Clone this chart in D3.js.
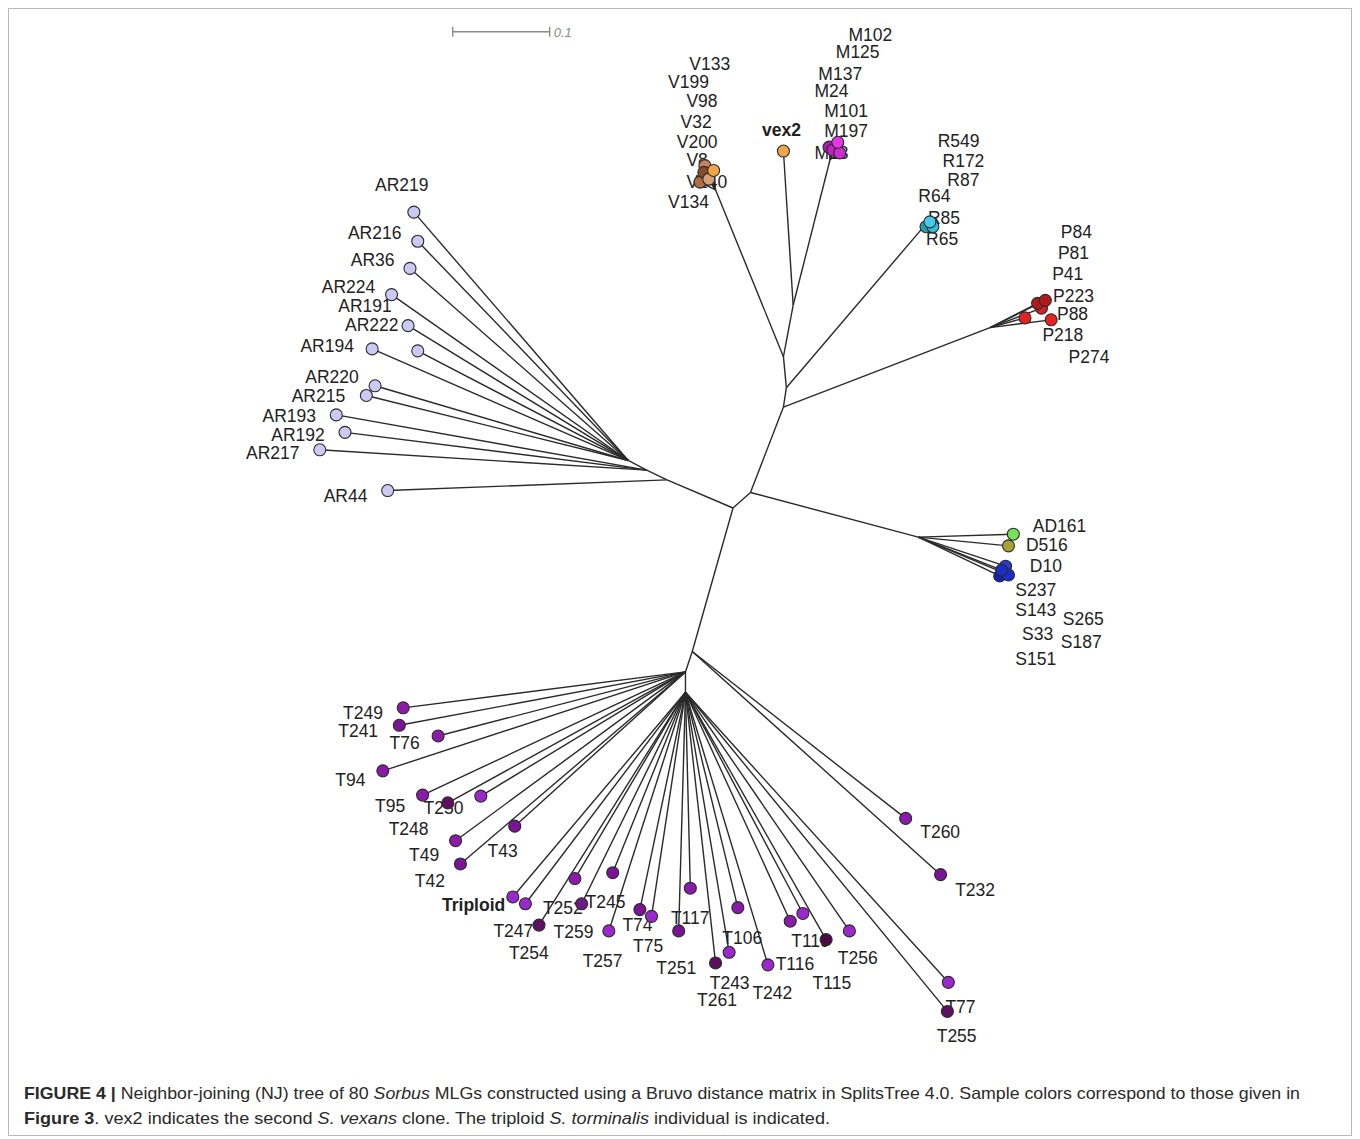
<!DOCTYPE html>
<html>
<head>
<meta charset="utf-8">
<script src="https://cdn.jsdelivr.net/npm/d3@7"></script>
<style>
  body { margin: 0; background: #fff; }
  svg { display: block; }
  .label { font-family: "Liberation Sans", Arial, sans-serif; font-size: 17.5px; fill: #222; }
  .caption { font-family: "Liberation Sans", Arial, sans-serif; font-size: 16.5px; fill: #2a2a2a; }
</style>
</head>
<body>
<div id="container"></div>
<script>
// tree coordinates in distance units (origin = central split)
var innerNodes = [
  ["n0", null, 0, 0],
  ["nAR", "n0", -0.068, -0.029],
  ["nAR2", "nAR", -0.089, -0.039],
  ["nAR3", "nAR2", -0.108, -0.049],
  ["n1", "n0", 0.018, -0.016],
  ["nS", "n1", 0.191, 0.030],
  ["n2", "n1", 0.052, -0.104],
  ["nP", "n2", 0.265, -0.186],
  ["n3", "n2", 0.055, -0.124],
  ["nR", "n3", 0.194, -0.287],
  ["n4", "n3", 0.052, -0.156],
  ["nV", "n4", -0.018, -0.328],
  ["n5", "n4", 0.062, -0.209],
  ["nM", "n5", 0.100, -0.359],
  ["nT0", "n0", -0.042, 0.148],
  ["nT1", "nT0", -0.049, 0.169],
  ["nT2", "nT1", -0.049, 0.190]
];

// [parent, x, y, shade]
var leafNodes = [
  ["nV", -0.034, -0.336, "v2"], ["nV", -0.029, -0.353, "v4"], ["nV", -0.030, -0.346, "v1"],
  ["nV", -0.025, -0.339, "v3"], ["nV", -0.020, -0.348, "v5"],
  ["n5", 0.052, -0.368, "v5"],
  ["nM", 0.099, -0.372, "m2"], ["nM", 0.103, -0.369, "m1"], ["nM", 0.110, -0.366, "m3"], ["nM", 0.108, -0.377, "m4"],
  ["nR", 0.199, -0.290, "r2"], ["nR", 0.206, -0.290, "r3"], ["nR", 0.203, -0.295, "r1"],
  ["nP", 0.301, -0.196, "p3"], ["nP", 0.328, -0.194, "p3"], ["nP", 0.318, -0.206, "p2"],
  ["nP", 0.314, -0.211, "p1"], ["nP", 0.322, -0.214, "p1"],
  ["nS", 0.289, 0.027, "ad"], ["nS", 0.284, 0.039, "d"],
  ["nS", 0.281, 0.060, "s2"], ["nS", 0.275, 0.070, "s3"], ["nS", 0.284, 0.069, "s1"], ["nS", 0.277, 0.064, "s1"],
  ["nAR3", -0.329, -0.305, "ar"], ["nAR3", -0.325, -0.275, "ar"], ["nAR3", -0.333, -0.247, "ar"],
  ["nAR3", -0.352, -0.220, "ar"], ["nAR3", -0.335, -0.188, "ar"], ["nAR3", -0.372, -0.164, "ar"],
  ["nAR3", -0.325, -0.162, "ar"], ["nAR3", -0.369, -0.126, "ar"], ["nAR3", -0.378, -0.116, "ar"],
  ["nAR2", -0.409, -0.096, "ar"], ["nAR2", -0.400, -0.078, "ar"], ["nAR2", -0.426, -0.060, "ar"],
  ["nAR", -0.356, -0.018, "ar"],
  ["nT1", -0.340, 0.206, "t1"], ["nT1", -0.344, 0.224, "t2"], ["nT1", -0.304, 0.235, "t1"],
  ["nT1", -0.361, 0.271, "t1"], ["nT1", -0.320, 0.296, "t1"], ["nT1", -0.294, 0.304, "t4"],
  ["nT1", -0.260, 0.297, "t3"], ["nT1", -0.225, 0.328, "t2"], ["nT1", -0.286, 0.343, "t1"],
  ["nT1", -0.281, 0.367, "t2"],
  ["nT2", -0.227, 0.401, "t3"], ["nT2", -0.214, 0.408, "t3"], ["nT2", -0.200, 0.430, "t4"],
  ["nT2", -0.163, 0.382, "t1"], ["nT2", -0.124, 0.376, "t2"], ["nT2", -0.156, 0.408, "t5"],
  ["nT2", -0.128, 0.436, "t3"], ["nT2", -0.096, 0.414, "t2"], ["nT2", -0.084, 0.421, "t3"],
  ["nT2", -0.044, 0.392, "t1"], ["nT2", -0.056, 0.436, "t2"], ["nT2", -0.018, 0.469, "t4"],
  ["nT2", -0.004, 0.458, "t3"], ["nT2", 0.005, 0.412, "t1"], ["nT2", 0.036, 0.471, "t3"],
  ["nT2", 0.059, 0.426, "t1"], ["nT2", 0.072, 0.418, "t3"], ["nT2", 0.096, 0.445, "t6"],
  ["nT2", 0.120, 0.436, "t3"],
  ["nT0", 0.178, 0.320, "t1"], ["nT0", 0.214, 0.378, "t2"],
  ["nT2", 0.222, 0.489, "t3"], ["nT2", 0.221, 0.519, "t4"]
];

// [text, x, y, bold]
var nodeLabels = [
  ["V133", -0.045, -0.458], ["V199", -0.067, -0.439], ["V98", -0.048, -0.420], ["V32", -0.054, -0.398],
  ["V200", -0.058, -0.378], ["V8", -0.048, -0.359], ["V140", -0.048, -0.336], ["V134", -0.067, -0.316],
  ["vex2", 0.030, -0.390, true],
  ["M102", 0.119, -0.488], ["M125", 0.106, -0.470], ["M137", 0.088, -0.448], ["M24", 0.084, -0.430],
  ["M101", 0.094, -0.410], ["M197", 0.094, -0.389], ["M13", 0.084, -0.366],
  ["R549", 0.211, -0.379], ["R172", 0.216, -0.358], ["R87", 0.221, -0.338], ["R64", 0.191, -0.322],
  ["R85", 0.201, -0.299], ["R65", 0.199, -0.278],
  ["P84", 0.338, -0.285], ["P81", 0.335, -0.263], ["P41", 0.329, -0.242], ["P223", 0.330, -0.219],
  ["P88", 0.334, -0.200], ["P218", 0.319, -0.179], ["P274", 0.346, -0.156],
  ["AD161", 0.309, 0.018], ["D516", 0.302, 0.038], ["D10", 0.306, 0.059], ["S237", 0.291, 0.084],
  ["S143", 0.291, 0.105], ["S265", 0.340, 0.114], ["S33", 0.298, 0.130], ["S187", 0.338, 0.138],
  ["S151", 0.291, 0.155],
  ["AR219", -0.369, -0.333], ["AR216", -0.397, -0.284], ["AR36", -0.394, -0.256], ["AR224", -0.424, -0.228],
  ["AR191", -0.407, -0.209], ["AR222", -0.400, -0.189], ["AR194", -0.446, -0.167], ["AR220", -0.441, -0.135],
  ["AR215", -0.455, -0.116], ["AR193", -0.485, -0.095], ["AR192", -0.476, -0.076], ["AR217", -0.502, -0.057],
  ["AR44", -0.422, -0.013],
  ["T249", -0.402, 0.211], ["T241", -0.407, 0.230], ["T76", -0.354, 0.242], ["T94", -0.410, 0.280],
  ["T95", -0.369, 0.307], ["T250", -0.319, 0.309], ["T248", -0.355, 0.331], ["T49", -0.334, 0.357],
  ["T43", -0.253, 0.353], ["T42", -0.328, 0.384], ["Triploid", -0.300, 0.409, true],
  ["T252", -0.196, 0.412], ["T245", -0.152, 0.406], ["T247", -0.247, 0.436], ["T254", -0.231, 0.458],
  ["T259", -0.185, 0.437], ["T74", -0.114, 0.430], ["T117", -0.064, 0.422], ["T257", -0.155, 0.467],
  ["T75", -0.103, 0.451], ["T251", -0.079, 0.474], ["T106", -0.011, 0.443], ["T243", -0.024, 0.489],
  ["T261", -0.037, 0.507], ["T242", 0.020, 0.500], ["T116", 0.044, 0.470], ["T119", 0.060, 0.446],
  ["T256", 0.108, 0.464], ["T115", 0.082, 0.489], ["T260", 0.193, 0.334], ["T232", 0.229, 0.394],
  ["T77", 0.219, 0.514], ["T255", 0.210, 0.544]
];

var scaleBar = { x: -0.289, y: -0.491, length: 0.1, text: "0.1" };

var captionLines = [
  [["FIGURE 4 | ", "b"], ["Neighbor-joining (NJ) tree of 80 "], ["Sorbus", "i"],
   [" MLGs constructed using a Bruvo distance matrix in SplitsTree 4.0. Sample colors correspond to those given in"]],
  [["Figure 3", "b"], [". vex2 indicates the second "], ["S. vexans", "i"], [" clone. The triploid "],
   ["S. torminalis", "i"], [" individual is indicated."]]
];

var shades = {
  v1: "#8a4a2c", v2: "#b26c44", v3: "#d8a276", v4: "#c4845e", v5: "#f0a548",
  m1: "#c020c4", m2: "#b018b4", m3: "#d02ad2", m4: "#e634e6",
  r1: "#44cae8", r2: "#1f9fb6", r3: "#34bada",
  p1: "#b01a1a", p2: "#d42020", p3: "#e42222",
  ad: "#74e25a", d: "#a8a232", s1: "#1c2cc8", s2: "#2a3ad4", s3: "#1222ac",
  ar: "#cacaf2",
  t1: "#8a1aa8", t2: "#7a1494", t3: "#9a28cc", t4: "#5e1060", t5: "#6c1a84", t6: "#4a0a44"
};

var W = 1360, H = 1139;
var cx = 733, cy = 508, pxPerUnit = 970;

var x = d3.scaleLinear().domain([0, 0.1]).range([cx, cx + 0.1 * pxPerUnit]);
var y = d3.scaleLinear().domain([0, 0.1]).range([cy, cy + 0.1 * pxPerUnit]);

var svg = d3.select("#container").append("svg")
    .attr("width", W).attr("height", H);

svg.append("rect").attr("width", W).attr("height", H).attr("fill", "#fff");

// figure frame
svg.append("rect")
    .attr("x", 8.5).attr("y", 8.5)
    .attr("width", 1343).attr("height", 1127)
    .attr("fill", "none").attr("stroke", "#b8b8b8").attr("stroke-width", 1);

var nodeById = {};
innerNodes.forEach(function(d) { nodeById[d[0]] = { x: d[2], y: d[3] }; });

var edges = [];
innerNodes.forEach(function(d) {
    if (d[1]) edges.push([nodeById[d[1]], { x: d[2], y: d[3] }]);
});
leafNodes.forEach(function(d) {
    edges.push([nodeById[d[0]], { x: d[1], y: d[2] }]);
});

var g = svg.append("g");

g.selectAll("line.edge")
    .data(edges)
    .enter().append("line")
    .attr("class", "edge")
    .attr("x1", function(d) { return x(d[0].x); })
    .attr("y1", function(d) { return y(d[0].y); })
    .attr("x2", function(d) { return x(d[1].x); })
    .attr("y2", function(d) { return y(d[1].y); })
    .attr("stroke", "#2a2a2a")
    .attr("stroke-width", 1.4);

// labels sit under the node circles, as in SplitsTree
g.selectAll("text.label")
    .data(nodeLabels)
    .enter().append("text")
    .attr("class", "label")
    .attr("x", function(d) { return x(d[1]); })
    .attr("y", function(d) { return y(d[2]); })
    .attr("dy", "0.36em")
    .style("font-weight", function(d) { return d[3] ? "bold" : "normal"; })
    .text(function(d) { return d[0]; });

g.selectAll("circle.leaf")
    .data(leafNodes)
    .enter().append("circle")
    .attr("class", "leaf")
    .attr("cx", function(d) { return x(d[1]); })
    .attr("cy", function(d) { return y(d[2]); })
    .attr("r", 6)
    .attr("fill", function(d) { return shades[d[3]]; })
    .attr("stroke", "#2b2b2b")
    .attr("stroke-width", 1.1);

// scale bar
var sb = svg.append("g").attr("stroke", "#8a8a8a").attr("stroke-width", 1.4);
var sx0 = x(scaleBar.x), sx1 = x(scaleBar.x + scaleBar.length), sy = y(scaleBar.y);
sb.append("line").attr("x1", sx0).attr("x2", sx1).attr("y1", sy).attr("y2", sy);
sb.append("line").attr("x1", sx0).attr("x2", sx0).attr("y1", sy - 5).attr("y2", sy + 5);
sb.append("line").attr("x1", sx1).attr("x2", sx1).attr("y1", sy - 5).attr("y2", sy + 5);
svg.append("text")
    .attr("x", sx1 + 4).attr("y", sy + 5)
    .style("font-family", "Liberation Sans, Arial, sans-serif")
    .style("font-size", "13px").style("font-style", "italic")
    .attr("fill", "#8a8a8a")
    .text(scaleBar.text);

// caption, squeezed to the condensed width of the journal face
var capY = [1099, 1124];
var capFit = [1276, 806];
captionLines.forEach(function(line, i) {
    var t = svg.append("text").attr("class", "caption")
        .attr("x", 24).attr("y", capY[i]);
    line.forEach(function(part) {
        t.append("tspan")
            .style("font-weight", part[1] === "b" ? "bold" : "normal")
            .style("font-style", part[1] === "i" ? "italic" : "normal")
            .text(part[0]);
    });
    t.attr("textLength", capFit[i]).attr("lengthAdjust", "spacingAndGlyphs");
});
</script>
</body>
</html>
